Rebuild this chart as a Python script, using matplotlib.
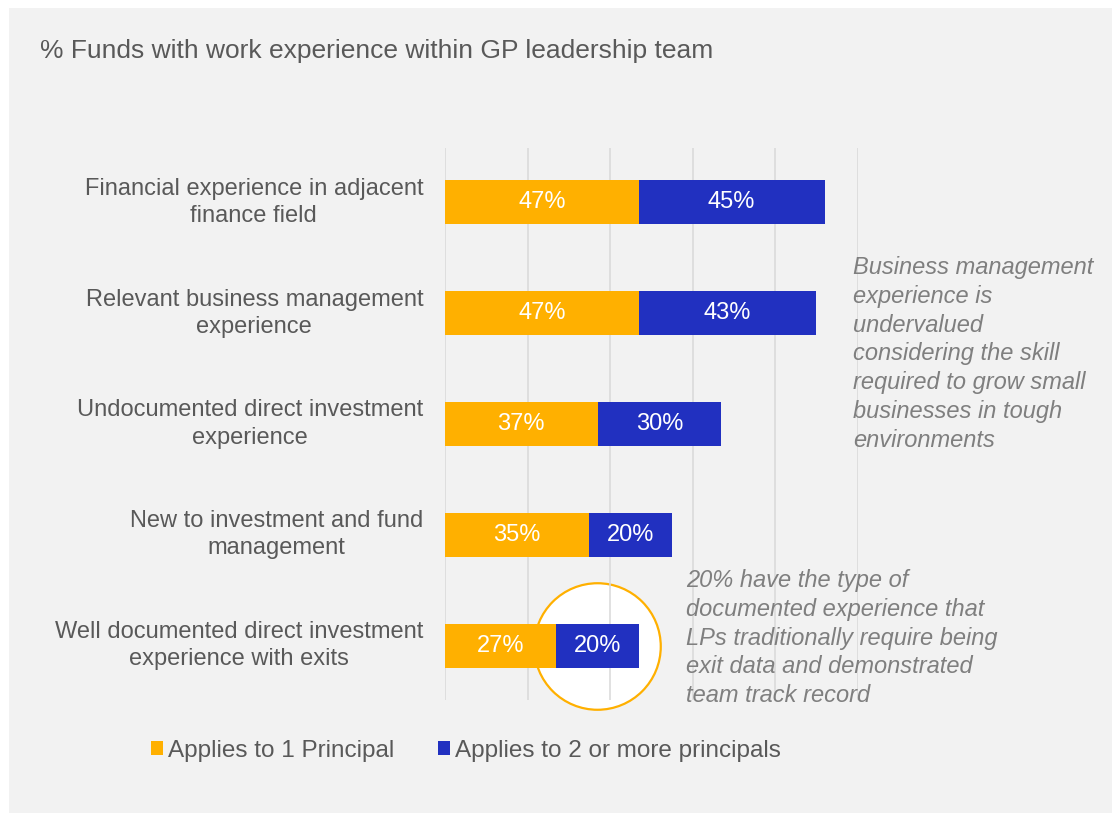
import matplotlib.pyplot as plt
from matplotlib.patches import Rectangle, Patch

plt.rcParams['font.family'] = ['Liberation Sans', 'DejaVu Sans']

categories = [
    'Financial experience in adjacent\nfinance field',
    'Relevant business management\nexperience',
    'Undocumented direct investment\nexperience',
    'New to investment and fund\nmanagement',
    'Well documented direct investment\nexperience with exits',
]
one_principal = [47, 47, 37, 35, 27]
two_or_more = [45, 43, 30, 20, 20]
series_names = ['Applies to 1 Principal', 'Applies to 2 or more principals']

ORANGE = '#FFB000'
BLUE = '#2130C0'
GREY_TXT = '#595959'
NOTE_TXT = '#7f7f7f'
BG = '#f2f2f2'

fig = plt.figure(figsize=(11.12, 8.13), dpi=100)
fig.patch.set_facecolor('white')
fig.patches.append(Rectangle((9 / 1112, 0), 1 - 9 / 1112, 1 - 8 / 813,
                             transform=fig.transFigure, facecolor=BG,
                             edgecolor='none', zorder=-10))

ax = fig.add_axes([445 / 1112, 113 / 813, 412.5 / 1112, 552 / 813])
ax.set_facecolor('none')

y = list(range(len(categories)))
ax.barh(y, one_principal, height=0.4, color=ORANGE, zorder=3)
ax.barh(y, two_or_more, left=one_principal, height=0.4, color=BLUE, zorder=3)

for i in y:
    a, b = one_principal[i], two_or_more[i]
    ax.text(a / 2, i, f'{a}%', ha='center', va='center', color='white',
            fontsize=17, zorder=4)
    ax.text(a + b / 2, i, f'{b}%', ha='center', va='center', color='white',
            fontsize=17, zorder=4)
    ax.text(-5.3, i, categories[i], ha='right', va='center', color=GREY_TXT,
            fontsize=17, multialignment='center', linespacing=1.3)

# highlight circle round the last bar
ax.scatter([36.8], [4], s=8300, facecolor='white', edgecolor=ORANGE,
           linewidth=1.6, zorder=1, clip_on=False)

ax.set_xlim(0, 100)
ax.set_ylim(4.49, -0.49)
ax.set_xticks([0, 20, 40, 60, 80, 100])
ax.grid(axis='x', color='#d9d9d9', linewidth=1.1, zorder=2)
ax.set_axisbelow(False)
for s in ax.spines.values():
    s.set_visible(False)
ax.tick_params(left=False, bottom=False, labelleft=False, labelbottom=False)

fig.text(40 / 1112, 1 - 51 / 813, '% Funds with work experience within GP leadership team',
         ha='left', va='center', color=GREY_TXT, fontsize=19)

fig.text(853 / 1112, 1 - 256 / 813,
         'Business management\nexperience is\nundervalued\nconsidering the skill\n'
         'required to grow small\nbusinesses in tough\nenvironments',
         ha='left', va='top', color=NOTE_TXT, fontsize=17, style='italic',
         linespacing=1.32)
fig.text(686 / 1112, 1 - 569 / 813,
         '20% have the type of\ndocumented experience that\nLPs traditionally require being\n'
         'exit data and demonstrated\nteam track record',
         ha='left', va='top', color=NOTE_TXT, fontsize=17, style='italic',
         linespacing=1.32)

handles = [Patch(facecolor=ORANGE), Patch(facecolor=BLUE)]
fig.legend(handles, series_names, loc='center left', ncol=2, frameon=False,
           bbox_to_anchor=(129 / 1112, 1 - 751 / 813), fontsize=17.5,
           labelcolor=GREY_TXT, handlelength=0.5, handleheight=0.5,
           handletextpad=0.2, columnspacing=1.8)

fig.savefig('out.png', dpi=100, facecolor=fig.get_facecolor())
